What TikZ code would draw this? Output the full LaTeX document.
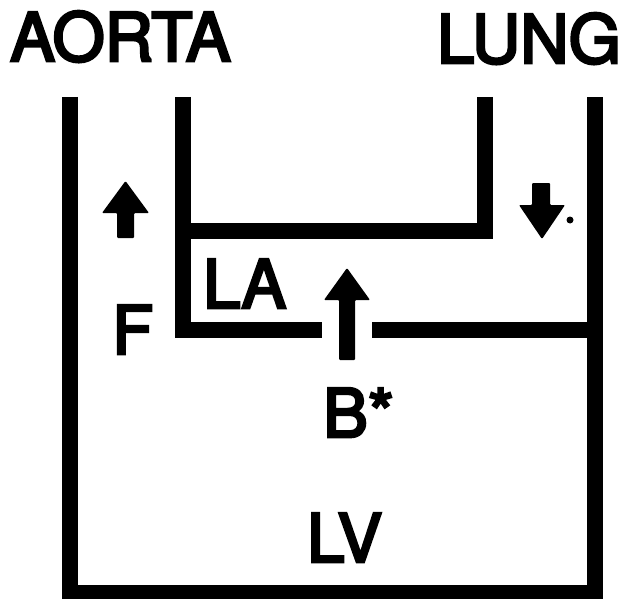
\documentclass[tikz,border=0pt]{standalone}
\usepackage{fontspec}
\setmainfont{TeX Gyre Heros}
\newfontfamily\labelfont{TeX Gyre Heros}[FakeBold=4]
\begin{document}
\begin{tikzpicture}[x=1pt,y=-1pt,
  wall/.style={line width=16pt,line cap=butt,line join=miter},
  blockarrow/.style={fill=black,draw=none,rounded corners=1pt},
  lbl/.style={font=\fontsize{67}{67}\labelfont,inner sep=0pt,anchor=base west}]
\useasboundingbox[fill=white] (0,0) rectangle (626,599);
% walls
\draw[wall] (70,97) -- (70,593) -- (595,593) -- (595,97);
\draw[wall] (183,97) -- (183,330) -- (322,330);
\draw[wall] (485,97) -- (485,231) -- (175,231);
\draw[wall] (372,330) -- (595,330);
% block arrows
\fill[blockarrow] (117,238) -- (117,213) -- (102,213) -- (125.5,181) -- (149,213) -- (134,213) -- (134,238) -- cycle;
\fill[blockarrow] (532,183) -- (532,205) -- (519,205) -- (542,239) -- (565,205) -- (550,205) -- (550,183) -- cycle;
\fill[blockarrow] (339,360) -- (339,300) -- (324,300) -- (347,268) -- (370,300) -- (355,300) -- (355,360) -- cycle;
\fill (570,220) circle (3.5);
% labels
\node[lbl] (aorta) at (10,61) {AORTA};
\node[lbl,anchor=base east] (lung) at (621,63) {LUNG};
\node[lbl] (la) at (203,308) {LA};
\node[lbl] (f) at (112,354) {F};
\node[lbl] (b) at (323,437) {B*};
\node[lbl] (lv) at (307,562) {LV};
\end{tikzpicture}
\end{document}
